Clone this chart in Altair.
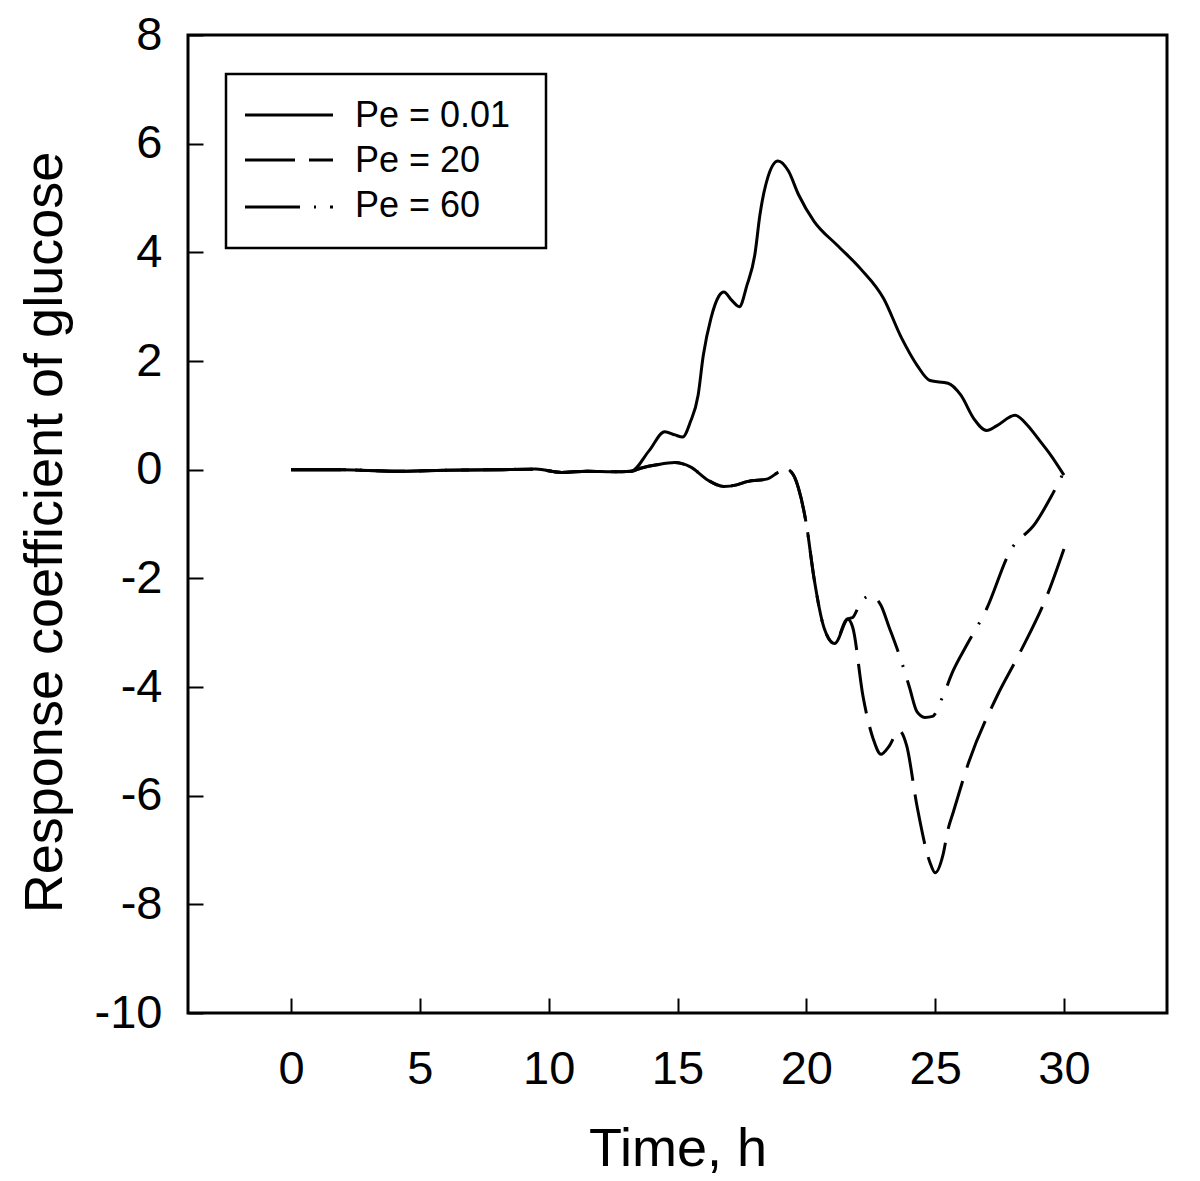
import altair as alt
import pandas as pd

# ---- data ----
t_001 = [0, 2, 4, 6, 8, 9.5, 10.5, 11.5, 12.5, 13.2, 13.9, 14.5, 14.9, 15.2, 15.5, 15.8, 16.0,
         16.3, 16.6, 16.8, 17.1, 17.4, 17.7, 18.0, 18.2, 18.5, 18.9, 19.3, 19.7, 20.3, 21.2,
         22.1, 23.0, 23.7, 24.3, 24.8, 25.5, 26.0, 26.5, 27.0, 27.4, 28.1, 28.6, 29.0, 29.5, 30.0]
y_001 = [0, 0, -0.03, -0.01, 0, 0.01, -0.05, -0.03, -0.04, -0.03, 0.35, 0.7, 0.64, 0.6, 0.88, 1.37, 2.1,
         2.79, 3.19, 3.27, 3.12, 3.0, 3.4, 3.95, 4.69, 5.37, 5.68, 5.5, 5.06, 4.57, 4.13,
         3.7, 3.15, 2.42, 1.92, 1.64, 1.59, 1.37, 0.94, 0.72, 0.81, 1.0, 0.81, 0.57, 0.26, -0.1]

t_shared = [0, 2, 4, 6, 8, 9.5, 10.5, 11.5, 12.5, 13.2, 13.6, 14.2, 14.9, 15.5, 16.2, 16.8, 17.3,
            17.7, 18.5, 18.9, 19.2, 19.5, 19.7, 20.0, 20.3, 20.7, 21.1, 21.6]
y_shared = [0, 0, -0.03, -0.01, 0, 0.01, -0.05, -0.03, -0.04, -0.03, 0.03, 0.09, 0.13, 0.05, -0.2, -0.31, -0.28,
            -0.22, -0.17, -0.05, 0.02, -0.1, -0.35, -1.0, -2.0, -2.93, -3.2, -2.75]

t_20_tail = [21.8, 22.2, 22.6, 22.9, 23.2, 23.6, 23.9, 24.3, 24.8, 25.0, 25.3, 25.5, 25.7, 26.3,
             27.4, 28.3, 29.4, 30.0]
y_20_tail = [-2.9, -4.17, -4.96, -5.24, -5.1, -4.8, -5.09, -6.2, -7.23, -7.42, -7.1, -6.62, -6.31, -5.39,
             -4.17, -3.36, -2.25, -1.46]

t_60_tail = [21.8, 22.1, 22.5, 22.9, 23.2, 23.7, 24.0, 24.3, 24.6, 24.9, 25.3, 25.7, 26.2, 27.0,
             27.9, 28.9, 29.5, 30.0]
y_60_tail = [-2.72, -2.45, -2.32, -2.5, -2.88, -3.54, -4.0, -4.46, -4.56, -4.54, -4.17, -3.7, -3.25, -2.56,
             -1.51, -0.98, -0.5, -0.04]

series_names = ["Pe = 0.01", "Pe = 20", "Pe = 60"]
x_ticks = [0, 5, 10, 15, 20, 25, 30]
y_ticks = [-10, -8, -6, -4, -2, 0, 2, 4, 6, 8]

df001 = pd.DataFrame({"t": t_001, "r": y_001})
df20 = pd.DataFrame({"t": t_shared + t_20_tail, "r": y_shared + y_20_tail})
df60 = pd.DataFrame({"t": t_shared + t_60_tail, "r": y_shared + y_60_tail})

FONT = "Liberation Sans"
dashes = [None, [50, 14], [55, 14, 2, 14]]
hyphen_labels = "datum.value < 0 ? '-' + abs(datum.value) : '' + datum.value"

xenc = alt.X("t:Q", scale=alt.Scale(domain=[-4, 34], nice=False, zero=False),
             axis=alt.Axis(values=x_ticks, title="Time, h", grid=False, domain=False,
                           offset=-15, tickSize=15, tickWidth=2, tickColor="black",
                           labelPadding=33, labelFontSize=47, labelFont=FONT, labelColor="black",
                           labelExpr=hyphen_labels,
                           titleFontSize=54, titleFont=FONT, titleFontWeight="normal",
                           titleColor="black", titleBaseline="alphabetic", titleY=167))
yenc = alt.Y("r:Q", scale=alt.Scale(domain=[-10, 8], nice=False, zero=False),
             axis=alt.Axis(values=y_ticks, title="Response coefficient of glucose", grid=False,
                           domain=False, offset=-15, tickSize=15, tickWidth=2, tickColor="black",
                           labelPadding=26, labelFontSize=47, labelFont=FONT, labelColor="black",
                           labelExpr=hyphen_labels,
                           titleFontSize=54, titleFont=FONT, titleFontWeight="normal",
                           titleColor="black", titleBaseline="alphabetic", titleAngle=270,
                           titleX=-142, titleY=497))

layers = []
# draw dashed ones first, solid on top
for df, d in [(df20, dashes[1]), (df60, dashes[2]), (df001, dashes[0])]:
    kw = dict(color="black", strokeWidth=3, interpolate="monotone")
    if d:
        kw["strokeDash"] = d
    layers.append(alt.Chart(df).mark_line(**kw).encode(x=xenc, y=yenc))

one = pd.DataFrame({"a": [0]})
# legend box
layers.append(alt.Chart(one).mark_rect(fill="white", stroke="black", strokeWidth=2.5).encode(
    x=alt.value(38), x2=alt.value(358), y=alt.value(39), y2=alt.value(213)))
row_line_y = [80, 125, 172]
row_text_y = [92, 137, 182]
for name, d, ly, ty in zip(series_names, dashes, row_line_y, row_text_y):
    kw = dict(color="black", strokeWidth=3)
    if d:
        kw["strokeDash"] = d
    layers.append(alt.Chart(one).mark_rule(**kw).encode(
        x=alt.value(57), x2=alt.value(145), y=alt.value(ly)))
    layers.append(alt.Chart(one).mark_text(text=name, align="left", baseline="alphabetic",
                                           font=FONT, fontSize=36, color="black").encode(
        x=alt.value(167), y=alt.value(ty)))

chart = alt.layer(*layers).properties(
    width=979, height=978,
    autosize=alt.AutoSizeParams(type="none"),
    padding={"left": 180, "top": 27, "right": 25, "bottom": 165},
    background="white",
).configure_view(stroke="black", strokeWidth=3)

chart.save("out.html", embed_options={"renderer": "svg", "actions": False})
